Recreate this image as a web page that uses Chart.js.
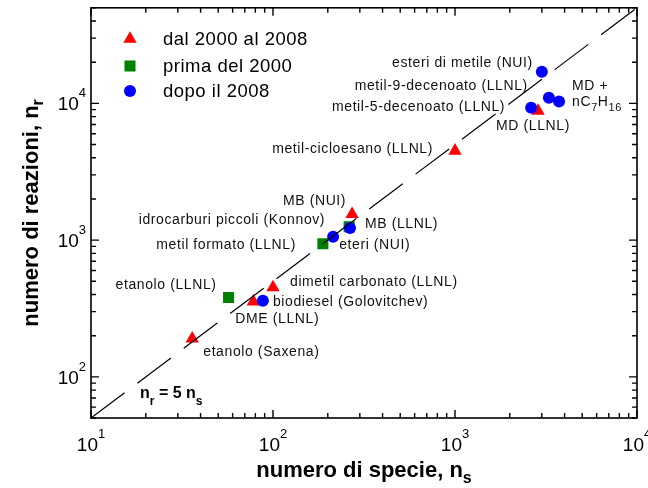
<!DOCTYPE html>
<html>
<head>
<meta charset="utf-8">
<script src="https://cdn.jsdelivr.net/npm/chart.js@4/dist/chart.umd.min.js"></script>
<style>
  body { margin: 0; background: #fff; }
</style>
</head>
<body>
<canvas id="chart" width="648" height="488"></canvas>
<script>
// Data (numero di specie, numero di reazioni)
const triX = [36, 78, 100, 272, 1000, 2860];
const triY = [190, 355, 450, 1550, 4500, 8800];
const sqX = [57, 188, 262];
const sqY = [380, 940, 1250];
const circX = [88, 214, 265, 2620, 3000, 3280, 3730];
const circY = [360, 1060, 1225, 9300, 17000, 11000, 10300];
const lineX = [10, 10000];
const lineY = [50, 50000];
const seriesNames = ["dal 2000 al 2008", "prima del 2000", "dopo il 2008"];
const xRange = [10, 10000];
const yRange = [50, 50000];

const FONT = "Arial, 'Liberation Sans', sans-serif";
const RED = "#ff0000";
const GREEN = "#008000";
const BLUE = "#0000ff";

const toPoints = (xs, ys) => xs.map((v, i) => ({ x: v, y: ys[i] }));

// Point annotations: anchored to a point, offset in px
const notes = [
  { text: "esteri di metile (NUI)", ds: 1, i: 4, dx: -9, dy: -9, align: "right" },
  { text: "metil-9-decenoato (LLNL)", ds: 1, i: 4, dx: -14, dy: 14, align: "right" },
  { text: "metil-5-decenoato (LLNL)", ds: 1, i: 3, dx: -26, dy: -1, align: "right" },
  { text: "MD +", ds: 1, i: 6, dx: 13, dy: -15, align: "left" },
  { text: "MD (LLNL)", ds: 2, i: 5, dx: -42, dy: 15, align: "left" },
  { text: "metil-cicloesano (LLNL)", ds: 2, i: 4, dx: -22, dy: -2, align: "right" },
  { text: "MB (NUI)", ds: 2, i: 3, dx: -6, dy: -13, align: "right" },
  { text: "idrocarburi piccoli (Konnov)", ds: 1, i: 1, dx: -8, dy: -17, align: "right" },
  { text: "MB (LLNL)", ds: 1, i: 2, dx: 15, dy: -4, align: "left" },
  { text: "metil formato (LLNL)", ds: 3, i: 1, dx: -27, dy: 1, align: "right" },
  { text: "eteri (NUI)", ds: 1, i: 1, dx: 6, dy: 8, align: "left" },
  { text: "etanolo (LLNL)", ds: 3, i: 0, dx: -12, dy: -12, align: "right" },
  { text: "dimetil carbonato (LLNL)", ds: 2, i: 2, dx: 17, dy: -5, align: "left" },
  { text: "biodiesel (Golovitchev)", ds: 1, i: 0, dx: 10, dy: 1, align: "left" },
  { text: "DME (LLNL)", ds: 2, i: 1, dx: -18, dy: 18, align: "left" },
  { text: "etanolo (Saxena)", ds: 2, i: 0, dx: 11, dy: 13, align: "left" },
];

function isDecade(v) {
  const l = Math.log10(v);
  return Math.abs(l - Math.round(l)) < 1e-9;
}

// keep only 1..9 x 10^n ticks (drop the 1.5 x 10^n extras)
function isWholeStep(v) {
  const s = v / Math.pow(10, Math.floor(Math.log10(v) + 1e-9));
  return Math.abs(s - Math.round(s)) < 1e-6;
}

// draw text with sub/superscript pieces: parts = [[text, size, baselineShift, bold]]
function drawRich(ctx, parts, x, y, align) {
  let total = 0;
  const widths = parts.map(p => {
    ctx.font = (p[3] ? "bold " : "") + p[1] + "px " + FONT;
    const w = ctx.measureText(p[0]).width;
    total += w;
    return w;
  });
  let cx = align === "center" ? x - total / 2 : align === "right" ? x - total : x;
  ctx.textAlign = "left";
  ctx.textBaseline = "alphabetic";
  parts.forEach((p, k) => {
    ctx.font = (p[3] ? "bold " : "") + p[1] + "px " + FONT;
    ctx.fillText(p[0], cx, y + p[2]);
    cx += widths[k];
  });
}

const decor = {
  id: "decor",
  afterDraw(chart) {
    const { ctx, chartArea: a } = chart;
    const x = chart.scales.x;
    const y = chart.scales.y;
    ctx.save();

    // frame
    ctx.strokeStyle = "#000";
    ctx.lineWidth = 1.6;
    ctx.strokeRect(a.left, a.top, a.right - a.left, a.bottom - a.top);

    // inward ticks on all four sides
    ctx.lineWidth = 1.4;
    ctx.beginPath();
    x.ticks.filter(t => isWholeStep(t.value)).forEach(t => {
      const px = x.getPixelForValue(t.value);
      const len = isDecade(t.value) ? 8 : 5;
      ctx.moveTo(px, a.bottom); ctx.lineTo(px, a.bottom - len);
      ctx.moveTo(px, a.top); ctx.lineTo(px, a.top + len);
    });
    y.ticks.filter(t => isWholeStep(t.value)).forEach(t => {
      const py = y.getPixelForValue(t.value);
      const len = isDecade(t.value) ? 8 : 5;
      ctx.moveTo(a.left, py); ctx.lineTo(a.left + len, py);
      ctx.moveTo(a.right, py); ctx.lineTo(a.right - len, py);
    });
    ctx.stroke();

    // tick labels 10^n
    ctx.fillStyle = "#000";
    x.ticks.filter(t => isDecade(t.value)).forEach(t => {
      const px = x.getPixelForValue(t.value);
      const e = String(Math.round(Math.log10(t.value)));
      drawRich(ctx, [["10", 19, 0], [e, 13, -13]], px, 451, "center");
    });
    y.ticks.filter(t => isDecade(t.value)).forEach(t => {
      const py = y.getPixelForValue(t.value);
      const e = String(Math.round(Math.log10(t.value)));
      drawRich(ctx, [["10", 19, 0], [e, 13, -13]], a.left - 5, py + 7, "right");
    });

    // axis titles
    drawRich(ctx, [["numero di specie, n", 22, 0, true], ["s", 16, 6, true]],
      (a.left + a.right) / 2, 477, "center");
    ctx.save();
    ctx.translate(38, (a.top + a.bottom) / 2);
    ctx.rotate(-Math.PI / 2);
    drawRich(ctx, [["numero di reazioni, n", 22, 0, true], ["r", 16, 5, true]], 0, 0, "center");
    ctx.restore();

    // point annotations
    ctx.fillStyle = "#111";
    ctx.letterSpacing = "0.6px";
    ctx.font = "14px " + FONT;
    ctx.textBaseline = "middle";
    notes.forEach(n => {
      const el = chart.getDatasetMeta(n.ds).data[n.i];
      ctx.textAlign = n.align;
      ctx.fillText(n.text, el.x + n.dx, el.y + n.dy);
    });
    // nC7H16
    const md = chart.getDatasetMeta(1).data[6];
    drawRich(ctx, [["nC", 14, 0], ["7", 11, 5], ["H", 14, 0], ["16", 11, 5]],
      md.x + 13, md.y + 4, "left");
    ctx.letterSpacing = "0px";

    // n_r = 5 n_s
    ctx.fillStyle = "#000";
    drawRich(ctx, [["n", 16, 0, true], ["r", 12, 7, true], [" = 5 n", 16, 0, true], ["s", 12, 7, true]],
      a.left + 49, a.bottom - 20, "left");

    // legend
    const legend = [
      { name: seriesNames[0], ds: 2, yy: 39 },
      { name: seriesNames[1], ds: 3, yy: 66 },
      { name: seriesNames[2], ds: 1, yy: 91 },
    ];
    ctx.letterSpacing = "0.5px";
    legend.forEach(l => {
      const dset = chart.data.datasets[l.ds];
      ctx.fillStyle = dset.backgroundColor;
      Chart.helpers.drawPoint(ctx, {
        pointStyle: dset.pointStyle, radius: dset.pointRadius, rotation: 0, borderWidth: 0
      }, a.left + 39, l.yy);
      ctx.fillStyle = "#000";
      ctx.font = "18.5px " + FONT;
      ctx.textAlign = "left";
      ctx.textBaseline = "middle";
      ctx.fillText(l.name, a.left + 72, l.yy + 1);
    });
    ctx.restore();
  }
};

new Chart(document.getElementById("chart"), {
  type: "scatter",
  data: {
    datasets: [
      {
        type: "line",
        label: "n_r = 5 n_s",
        data: toPoints(lineX, lineY),
        borderColor: "#000",
        borderWidth: 1.2,
        borderDash: [42, 16],
        pointRadius: 0,
        fill: false,
      },
      {
        label: seriesNames[2],
        data: toPoints(circX, circY),
        pointStyle: "circle",
        pointRadius: 6,
        backgroundColor: BLUE,
        borderWidth: 0,
      },
      {
        label: seriesNames[0],
        data: toPoints(triX, triY),
        pointStyle: "triangle",
        pointRadius: 7.7,
        backgroundColor: RED,
        borderWidth: 0,
      },
      {
        label: seriesNames[1],
        data: toPoints(sqX, sqY),
        pointStyle: "rect",
        pointRadius: 7.8,
        backgroundColor: GREEN,
        borderWidth: 0,
      },
    ],
  },
  options: {
    responsive: false,
    animation: false,
    events: [],
    layout: { padding: { top: 7, right: 11, left: 0, bottom: 0 } },
    plugins: {
      legend: { display: false },
      tooltip: { enabled: false },
    },
    scales: {
      x: {
        type: "logarithmic",
        min: xRange[0],
        max: xRange[1],
        grid: { display: false },
        border: { display: false },
        ticks: { display: false },
        afterFit: (s) => { s.height = 70; },
      },
      y: {
        type: "logarithmic",
        min: yRange[0],
        max: yRange[1],
        grid: { display: false },
        border: { display: false },
        ticks: { display: false },
        afterFit: (s) => { s.width = 91; },
      },
    },
  },
  plugins: [decor],
});
</script>
</body>
</html>
